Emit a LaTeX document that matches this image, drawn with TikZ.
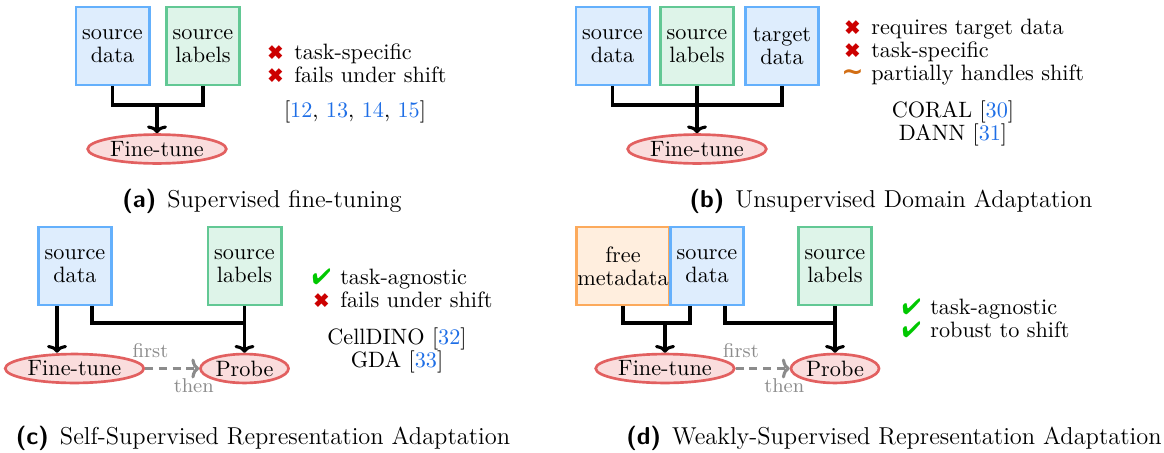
\documentclass[tikz,border=0pt]{standalone}
\usepackage{amsmath,amssymb}
\usepackage{fontspec}
\usepackage{pifont}
\usepackage{tikz}
\usepackage{xcolor}
\usetikzlibrary{shapes.geometric,calc,arrows.meta}

\newfontfamily\markfont{DejaVu Sans}

\definecolor{dataBlue}{RGB}{100,176,252}
\definecolor{dataFill}{RGB}{222,237,253}
\definecolor{lblGreen}{RGB}{98,200,148}
\definecolor{lblFill}{RGB}{222,244,233}
\definecolor{metaOrange}{RGB}{252,170,92}
\definecolor{metaFill}{RGB}{255,238,222}
\definecolor{stageRed}{RGB}{226,96,96}
\definecolor{stageFill}{RGB}{250,221,221}
\definecolor{citeBlue}{RGB}{30,110,230}
\definecolor{okGreen}{RGB}{0,200,0}
\definecolor{badRed}{RGB}{204,0,0}
\definecolor{midOrange}{RGB}{210,110,20}

\newcommand{\yesmark}{\makebox[9pt][c]{\textcolor{okGreen}{\ding{52}}}\hspace{4pt}}
\newcommand{\nomark}{\makebox[9pt][c]{\textcolor{badRed}{\small\ding{54}}}\hspace{4pt}}
\newcommand{\partmark}{\makebox[9pt][c]{\textcolor{midOrange}{\markfont\bfseries\large ∼}}\hspace{4pt}}
\newcommand{\refno}[1]{\textcolor{citeBlue}{#1}}
\newcommand{\sublabel}[1]{{\sffamily\bfseries #1}\hspace{5pt}}

\begin{document}
\begin{tikzpicture}[x=0.45pt,y=-0.45pt,
  base/.style={font=\fontsize{10}{10.5}\selectfont},
  srcbox/.style={base,draw=dataBlue,fill=dataFill,line width=1.2pt,align=center,
    minimum width=33pt,minimum height=35pt,inner xsep=0.5pt},
  lblbox/.style={srcbox,draw=lblGreen,fill=lblFill},
  metabox/.style={srcbox,draw=metaOrange,fill=metaFill},
  stage/.style={base,ellipse,draw=stageRed,fill=stageFill,line width=1.2pt,
    inner xsep=1pt,inner ysep=0pt,minimum height=13pt},
  notes/.style={base,anchor=west,align=left,inner sep=0pt},
  refs/.style={base,inner sep=0pt},
  caption/.style={font=\fontsize{11}{13}\selectfont},
  link/.style={draw=black,line width=1.4pt},
  flow/.style={link,-{To[length=3.5pt,width=9pt]}},
  seq/.style={draw=black!45,line width=1.4pt,dash pattern=on 3.6pt off 2.6pt,
    -{To[length=3.5pt,width=9pt]}},
  seqlbl/.style={font=\small,text=black!45,inner sep=1pt}]
  \useasboundingbox (0,0) rectangle (1164,452);

  % (a) supervised fine-tuning
  \node[srcbox] (a-src) at (112.5,46) {source\\data};
  \node[lblbox] (a-lbl) at (203,46) {source\\labels};
  \node[stage] (a-ft) at (157,149) {Fine-tune};
  \coordinate (a-join) at (157,105);
  \draw[link] (a-src.south) |- (a-join) -| (a-lbl.south);
  \draw[flow] (a-join) -- (a-ft);
  \node[notes] (a-notes) at (265,63.5) {\nomark task-specific\\\nomark fails under shift};
  \node[refs] (a-refs) at (355,112) {[\refno{12}, \refno{13}, \refno{14}, \refno{15}]};
  \node[caption] (a-cap) at (262,201) {\sublabel{(a)}Supervised fine-tuning};

  % (b) unsupervised domain adaptation
  \node[srcbox] (b-src) at (612.5,46) {source\\data};
  \node[lblbox] (b-lbl) at (697,46) {source\\labels};
  \node[srcbox] (b-tgt) at (782,46) {target\\data};
  \node[stage] (b-ft) at (697,149) {Fine-tune};
  \coordinate (b-join) at (697,105);
  \draw[link] (b-src.south) |- (b-join) -| (b-tgt.south);
  \draw[flow] (b-lbl) -- (b-ft);
  \node[notes] (b-notes) at (842,52) {\nomark requires target data\\\nomark task-specific\\\partmark partially handles shift};
  \node[refs] (b-ref1) at (953,112) {CORAL [\refno{30}]};
  \node[refs] (b-ref2) at (953,135) {DANN [\refno{31}]};
  \node[caption] (b-cap) at (891,201) {\sublabel{(b)}Unsupervised Domain Adaptation};

  % (c) self-supervised representation adaptation
  \node[srcbox] (c-src) at (75,266) {source\\data};
  \node[lblbox] (c-lbl) at (244.5,266) {source\\labels};
  \node[stage] (c-ft) at (74.5,368.5) {Fine-tune};
  \node[stage] (c-pr) at (244.5,368.5) {Probe};
  \coordinate (c-tap1) at ($(c-src.south)+(-18,0)$);
  \coordinate (c-tap2) at ($(c-src.south)+(17,0)$);
  \coordinate (c-join) at (244.5,323);
  \draw[flow] (c-tap1) -- (c-tap1 |- c-ft.north);
  \draw[link] (c-tap2) |- (c-join);
  \draw[flow] (c-lbl) -- (c-pr);
  \draw[seq] (c-ft) -- node[seqlbl,pos=0.1,above=3pt] {first}
    node[seqlbl,pos=0.9,below=3pt] {then} (c-pr);
  \node[notes] (c-notes) at (311,288.5) {\yesmark task-agnostic\\\nomark fails under shift};
  \node[refs] (c-ref1) at (397,339) {CellDINO [\refno{32}]};
  \node[refs] (c-ref2) at (397,362) {GDA [\refno{33}]};
  \node[caption] (c-cap) at (263,438) {\sublabel{(c)}Self-Supervised Representation Adaptation};

  % (d) weakly-supervised representation adaptation
  \node[metabox] (d-meta) at (623,266) {free\\metadata};
  \node[srcbox] (d-src) at (707,266) {source\\data};
  \node[lblbox] (d-lbl) at (835,266) {source\\labels};
  \node[stage] (d-ft) at (665,368.5) {Fine-tune};
  \node[stage] (d-pr) at (835,368.5) {Probe};
  \coordinate (d-tap1) at ($(d-src.south)+(-17,0)$);
  \coordinate (d-tap2) at ($(d-src.south)+(18,0)$);
  \coordinate (d-join1) at (665,323);
  \coordinate (d-join2) at (835,323);
  \draw[link] (d-meta.south) |- (d-join1) -| (d-tap1);
  \draw[flow] (d-join1) -- (d-ft);
  \draw[link] (d-tap2) |- (d-join2);
  \draw[flow] (d-lbl) -- (d-pr);
  \draw[seq] (d-ft) -- node[seqlbl,pos=0.1,above=3pt] {first}
    node[seqlbl,pos=0.9,below=3pt] {then} (d-pr);
  \node[notes] (d-notes) at (901,318.5) {\yesmark task-agnostic\\\yesmark robust to shift};
  \node[caption] (d-cap) at (894,438) {\sublabel{(d)}Weakly-Supervised Representation Adaptation};
\end{tikzpicture}
\end{document}
